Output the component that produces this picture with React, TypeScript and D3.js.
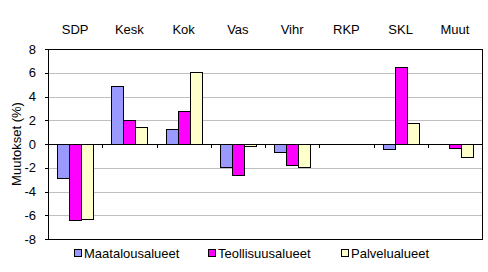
import React from "react";
import * as d3 from "d3";

const categories = ["SDP", "Kesk", "Kok", "Vas", "Vihr", "RKP", "SKL", "Muut"];
const seriesNames = ["Maatalousalueet", "Teollisuusalueet", "Palvelualueet"];
const maatalous = [-2.9, 4.9, 1.3, -1.9, -0.7, 0, -0.4, 0];
const teollisuus = [-6.4, 2.0, 2.8, -2.6, -1.8, 0, 6.5, -0.3];
const palvelu = [-6.3, 1.4, 6.1, -0.2, -1.9, 0, 1.8, -1.1];
const yTicks = [8, 6, 4, 2, 0, -2, -4, -6, -8];
const colors = ["#9999ff", "#ff00ff", "#ffffcc"];

const W = 488, H = 272;
const left = 48, right = 482, top = 49, bottom = 239;
const font = "Arial, 'Liberation Sans', sans-serif";

export default function App() {
  const series = [maatalous, teollisuus, palvelu];
  const x = d3.scaleBand<string>().domain(categories).range([left, right]).paddingInner(0).paddingOuter(0);
  const y = d3.scaleLinear().domain([-8, 8]).range([bottom, top]);
  const bw = x.bandwidth();
  const barW = bw / 4.5;
  const gap = (bw - barW * 3) / 2;
  const y0 = y(0);

  const legendX = [74, 208, 341];

  return (
    <svg width={W} height={H} style={{ position: "absolute", left: 0, top: 0, background: "#fff" }} fontFamily={font}>
      {/* gridlines */}
      {yTicks.filter(t => t !== 0 && t !== 8 && t !== -8).map(t => (
        <line key={"g" + t} x1={left} x2={right} y1={Math.round(y(t)) + 0.5} y2={Math.round(y(t)) + 0.5} stroke="#c0c0c0" strokeWidth={1} />
      ))}
      {/* bars */}
      {categories.map((c, i) => (
        <g key={c}>
          {series.map((s, j) => {
            const v = s[i];
            if (v === 0) return null;
            const bx = (x(c) as number) + gap + j * barW;
            const yv = y(v);
            return (
              <rect key={j} x={Math.round(bx) + 0.5} y={Math.round(Math.min(yv, y0)) + 0.5} width={Math.round(barW)} height={Math.max(1, Math.round(Math.abs(yv - y0)))}
                fill={colors[j]} stroke="#000" strokeWidth={1} />
            );
          })}
        </g>
      ))}
      {/* zero line */}
      <line x1={left} x2={right} y1={Math.round(y0) + 0.5} y2={Math.round(y0) + 0.5} stroke="#000" />
      {categories.slice(1).map(c => (
        <line key={"t" + c} x1={Math.round(x(c) as number) + 0.5} x2={Math.round(x(c) as number) + 0.5} y1={y0} y2={y0 + 4} stroke="#000" />
      ))}
      {/* plot border */}
      <rect x={left + 0.5} y={top + 0.5} width={right - left} height={bottom - top} fill="none" stroke="#000" />
      {/* y ticks */}
      {yTicks.map(t => (
        <g key={"y" + t}>
          <line x1={left - 3} x2={left} y1={Math.round(y(t)) + 0.5} y2={Math.round(y(t)) + 0.5} stroke="#000" />
          <text x={left - 12} y={y(t)} dy="0.35em" textAnchor="end" fontSize={13}>{t}</text>
        </g>
      ))}
      {/* category labels top */}
      {categories.map(c => (
        <text key={"c" + c} x={(x(c) as number) + bw / 2} y={29} dy="0.35em" textAnchor="middle" fontSize={13}>{c}</text>
      ))}
      {/* y title */}
      <text transform={`translate(16,${y0}) rotate(-90)`} textAnchor="middle" dy="0.35em" fontSize={13}>Muutokset (%)</text>
      {/* legend */}
      {seriesNames.map((n, j) => (
        <g key={n}>
          <rect x={legendX[j] + 0.5} y={249.5} width={7} height={7} fill={colors[j]} stroke="#000" />
          <text x={legendX[j] + 10} y={253} dy="0.35em" fontSize={13}>{n}</text>
        </g>
      ))}
    </svg>
  );
}
